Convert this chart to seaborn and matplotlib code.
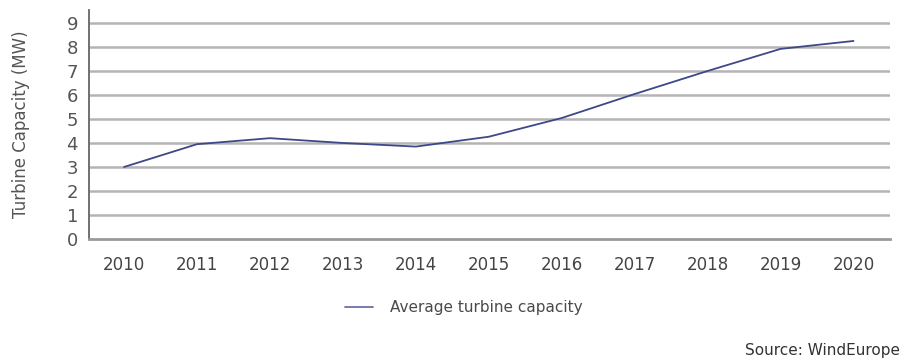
import matplotlib
matplotlib.use("Agg")
import matplotlib.pyplot as plt
import seaborn as sns
import pandas as pd

years = [2010, 2011, 2012, 2013, 2014, 2015, 2016, 2017, 2018, 2019, 2020]
capacity = [3.0, 3.95, 4.2, 4.0, 3.85, 4.26, 5.04, 6.04, 7.0, 7.92, 8.25]
series_name = "Average turbine capacity"
y_ticks = [0, 1, 2, 3, 4, 5, 6, 7, 8, 9]

sns.set_theme(style="white")
plt.rcParams['font.family'] = ['DejaVu Sans']

df = pd.DataFrame({"Year": years, "Capacity": capacity, "Series": series_name})

fig = plt.figure(figsize=(9.03, 3.62), dpi=100)
ax = fig.add_axes([89/903, 1-239/362, (890-89)/903, (239-10)/362])

for t in y_ticks[1:]:
    ax.axhline(t, color="#b4b4b4", lw=1.8, zorder=0)

sns.lineplot(data=df, x="Year", y="Capacity", hue="Series", palette=["#3d4888"],
             lw=1.3, ax=ax, legend=True)

ax.set_xlim(2009.52, 2020.5)
ax.set_ylim(0, 9.54)
ax.set_yticks(y_ticks)
ax.set_xticks(years)
ax.set_xticklabels([str(y) for y in years])
ax.tick_params(axis="both", length=0, colors="#4a4a4a")
ax.tick_params(axis="y", labelsize=13, pad=8)
ax.tick_params(axis="x", labelsize=12, pad=12)
for lab in ax.get_yticklabels():
    lab.set_color("#555555")
for lab in ax.get_xticklabels():
    lab.set_color("#444444")

ax.set_xlabel("")
ax.set_ylabel("Turbine Capacity (MW)", fontsize=12, color="#555555", labelpad=26)

for s in ["top", "right"]:
    ax.spines[s].set_visible(False)
ax.spines["left"].set_color("#666666")
ax.spines["left"].set_linewidth(1.3)
ax.spines["bottom"].set_color("#999999")
ax.spines["bottom"].set_linewidth(2.0)

leg = ax.legend(loc="center", bbox_to_anchor=(0.468, -0.3), frameon=False,
                fontsize=11, handlelength=1.8, handletextpad=1.1)
for t in leg.get_texts():
    t.set_color("#4a4a4a")
for h in leg.get_lines():
    h.set_linewidth(1.3)
    h.set_color("#6a72a8")

fig.text(0.997, 1-350/362, "Source: WindEurope", ha="right", va="center",
         fontsize=11, color="#333333")

fig.savefig("out.png", dpi=100)
